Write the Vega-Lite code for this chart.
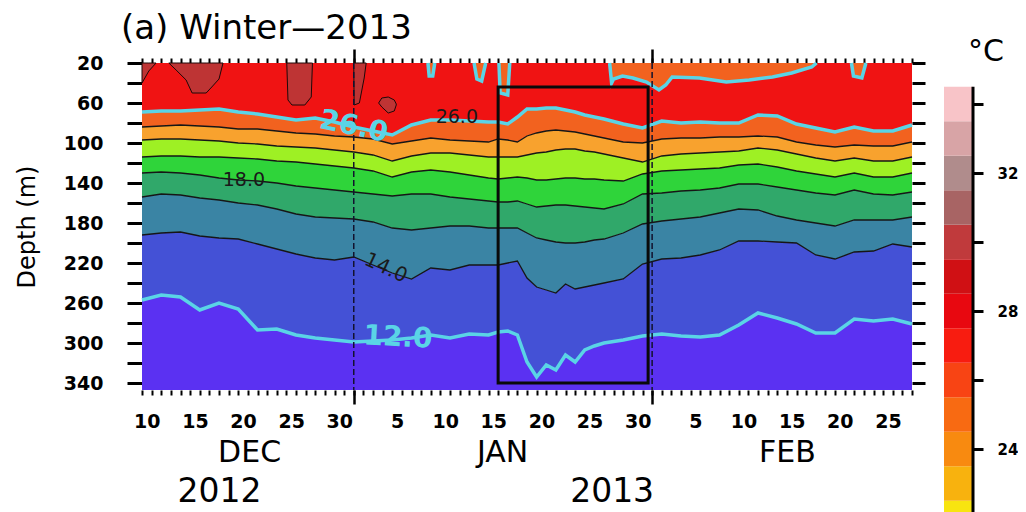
{
  "$schema": "https://vega.github.io/schema/vega-lite/v6.json",
  "background": "white",
  "padding": {"left": 15, "top": 11, "right": 0, "bottom": 0},
  "config": {"font": "DejaVu Sans", "view": {"stroke": null}, "axis": {"grid": false, "labelColor": "black", "tickColor": "black", "titleColor": "black"}},
  "datasets": {
    "iso": [
      {"t":"2012-12-10T00:00","a26":69,"a24":84,"a22":97,"a20":114,"a18":130,"a16":154,"a14":192,"a12":257},
      {"t":"2012-12-12T00:00","a26":68,"a24":83,"a22":96,"a20":113,"a18":129,"a16":151,"a14":190,"a12":252},
      {"t":"2012-12-14T00:00","a26":68,"a24":82,"a22":96,"a20":113,"a18":130,"a16":152,"a14":189,"a12":254},
      {"t":"2012-12-16T00:00","a26":67,"a24":83,"a22":97,"a20":114,"a18":132,"a16":155,"a14":193,"a12":267},
      {"t":"2012-12-18T00:00","a26":66,"a24":84,"a22":98,"a20":114,"a18":135,"a16":157,"a14":195,"a12":260},
      {"t":"2012-12-20T00:00","a26":69,"a24":86,"a22":100,"a20":115,"a18":137,"a16":160,"a14":196,"a12":266},
      {"t":"2012-12-22T00:00","a26":71,"a24":86,"a22":101,"a20":116,"a18":138,"a16":162,"a14":201,"a12":287},
      {"t":"2012-12-24T00:00","a26":74,"a24":88,"a22":103,"a20":118,"a18":140,"a16":166,"a14":206,"a12":286},
      {"t":"2012-12-26T00:00","a26":77,"a24":90,"a22":104,"a20":119,"a18":143,"a16":171,"a14":211,"a12":292},
      {"t":"2012-12-28T00:00","a26":75,"a24":91,"a22":105,"a20":121,"a18":145,"a16":174,"a14":215,"a12":295},
      {"t":"2012-12-30T00:00","a26":79,"a24":93,"a22":107,"a20":123,"a18":147,"a16":175,"a14":217,"a12":297},
      {"t":"2013-01-01T00:00","a26":84,"a24":94,"a22":109,"a20":125,"a18":149,"a16":176,"a14":214,"a12":299},
      {"t":"2013-01-03T00:00","a26":88,"a24":96,"a22":112,"a20":128,"a18":151,"a16":179,"a14":222,"a12":298},
      {"t":"2013-01-05T00:00","a26":92,"a24":101,"a22":118,"a20":134,"a18":153,"a16":185,"a14":230,"a12":297},
      {"t":"2013-01-07T00:00","a26":82,"a24":98,"a22":113,"a20":129,"a18":151,"a16":187,"a14":236,"a12":295},
      {"t":"2013-01-09T00:00","a26":77,"a24":95,"a22":110,"a20":127,"a18":151,"a16":185,"a14":225,"a12":292},
      {"t":"2013-01-11T00:00","a26":77,"a24":97,"a22":110,"a20":129,"a18":154,"a16":183,"a14":227,"a12":295},
      {"t":"2013-01-13T00:00","a26":78,"a24":98,"a22":112,"a20":132,"a18":156,"a16":183,"a14":222,"a12":291},
      {"t":"2013-01-15T00:00","a26":79,"a24":99,"a22":114,"a20":135,"a18":158,"a16":185,"a14":222,"a12":292},
      {"t":"2013-01-16T00:00","a26":79,"a24":96,"a22":114,"a20":136,"a18":159,"a16":185,"a14":222,"a12":289},
      {"t":"2013-01-17T00:00","a26":81,"a24":97,"a22":114,"a20":135,"a18":159,"a16":185,"a14":220,"a12":288},
      {"t":"2013-01-18T00:00","a26":74,"a24":99,"a22":114,"a20":134,"a18":158,"a16":185,"a14":218,"a12":292},
      {"t":"2013-01-19T00:00","a26":66,"a24":93,"a22":112,"a20":135,"a18":161,"a16":190,"a14":235,"a12":319},
      {"t":"2013-01-20T00:00","a26":66,"a24":90,"a22":110,"a20":137,"a18":164,"a16":195,"a14":244,"a12":334},
      {"t":"2013-01-21T00:00","a26":65,"a24":88,"a22":109,"a20":137,"a18":163,"a16":197,"a14":247,"a12":322},
      {"t":"2013-01-22T00:00","a26":65,"a24":87,"a22":107,"a20":136,"a18":162,"a16":199,"a14":250,"a12":327},
      {"t":"2013-01-23T00:00","a26":67,"a24":88,"a22":106,"a20":135,"a18":162,"a16":200,"a14":241,"a12":312},
      {"t":"2013-01-24T00:00","a26":69,"a24":89,"a22":106,"a20":135,"a18":163,"a16":200,"a14":246,"a12":319},
      {"t":"2013-01-25T00:00","a26":72,"a24":91,"a22":108,"a20":136,"a18":164,"a16":199,"a14":244,"a12":307},
      {"t":"2013-01-26T00:00","a26":74,"a24":93,"a22":109,"a20":136,"a18":165,"a16":197,"a14":242,"a12":303},
      {"t":"2013-01-27T00:00","a26":76,"a24":95,"a22":111,"a20":137,"a18":166,"a16":196,"a14":240,"a12":300},
      {"t":"2013-01-29T00:00","a26":81,"a24":99,"a22":115,"a20":138,"a18":161,"a16":190,"a14":236,"a12":297},
      {"t":"2013-01-31T00:00","a26":85,"a24":100,"a22":119,"a20":131,"a18":151,"a16":181,"a14":221,"a12":293},
      {"t":"2013-02-02T00:00","a26":78,"a24":96,"a22":113,"a20":128,"a18":150,"a16":178,"a14":216,"a12":291},
      {"t":"2013-02-04T00:00","a26":80,"a24":95,"a22":111,"a20":127,"a18":148,"a16":176,"a14":215,"a12":293},
      {"t":"2013-02-06T00:00","a26":79,"a24":95,"a22":110,"a20":126,"a18":147,"a16":174,"a14":212,"a12":294},
      {"t":"2013-02-08T00:00","a26":80,"a24":94,"a22":109,"a20":125,"a18":145,"a16":170,"a14":207,"a12":292},
      {"t":"2013-02-10T00:00","a26":80,"a24":94,"a22":108,"a20":122,"a18":141,"a16":166,"a14":198,"a12":282},
      {"t":"2013-02-12T00:00","a26":72,"a24":93,"a22":105,"a20":121,"a18":141,"a16":167,"a14":198,"a12":270},
      {"t":"2013-02-14T00:00","a26":73,"a24":94,"a22":107,"a20":124,"a18":144,"a16":173,"a14":199,"a12":275},
      {"t":"2013-02-16T00:00","a26":81,"a24":99,"a22":111,"a20":128,"a18":147,"a16":177,"a14":200,"a12":281},
      {"t":"2013-02-18T00:00","a26":85,"a24":102,"a22":115,"a20":131,"a18":150,"a16":180,"a14":212,"a12":290},
      {"t":"2013-02-20T00:00","a26":89,"a24":104,"a22":118,"a20":134,"a18":152,"a16":183,"a14":216,"a12":290},
      {"t":"2013-02-22T00:00","a26":84,"a24":102,"a22":115,"a20":130,"a18":147,"a16":177,"a14":209,"a12":276},
      {"t":"2013-02-24T00:00","a26":88,"a24":103,"a22":118,"a20":134,"a18":151,"a16":177,"a14":208,"a12":278},
      {"t":"2013-02-26T00:00","a26":88,"a24":103,"a22":118,"a20":134,"a18":152,"a16":177,"a14":201,"a12":276},
      {"t":"2013-02-28T00:00","a26":82,"a24":99,"a22":114,"a20":130,"a18":149,"a16":174,"a14":204,"a12":281}
    ],
    "hot": [
      {"p":"h1","t":"2012-12-10T00:00","top":20,"bot":40},
      {"p":"h1","t":"2012-12-10T17:00","top":20,"bot":28},
      {"p":"h1","t":"2012-12-11T11:00","top":20,"bot":20},
      {"p":"h2","t":"2012-12-12T19:00","top":20,"bot":20},
      {"p":"h2","t":"2012-12-13T13:00","top":20,"bot":27},
      {"p":"h2","t":"2012-12-14T14:00","top":20,"bot":37},
      {"p":"h2","t":"2012-12-15T05:00","top":20,"bot":50},
      {"p":"h2","t":"2012-12-16T16:00","top":20,"bot":50},
      {"p":"h2","t":"2012-12-17T06:00","top":20,"bot":44},
      {"p":"h2","t":"2012-12-18T00:00","top":20,"bot":36},
      {"p":"h2","t":"2012-12-18T10:00","top":20,"bot":20},
      {"p":"h3","t":"2012-12-25T01:00","top":20,"bot":20},
      {"p":"h3","t":"2012-12-25T04:00","top":20,"bot":57},
      {"p":"h3","t":"2012-12-25T14:00","top":20,"bot":62},
      {"p":"h3","t":"2012-12-26T22:00","top":20,"bot":62},
      {"p":"h3","t":"2012-12-27T14:00","top":20,"bot":54},
      {"p":"h3","t":"2012-12-27T17:00","top":20,"bot":20},
      {"p":"h4","t":"2013-01-01T00:00","top":20,"bot":20},
      {"p":"h4","t":"2013-01-01T01:00","top":20,"bot":62},
      {"p":"h4","t":"2013-01-01T14:00","top":20,"bot":60},
      {"p":"h4","t":"2013-01-02T02:00","top":20,"bot":35},
      {"p":"h4","t":"2013-01-02T07:00","top":20,"bot":20},
      {"p":"h5","t":"2013-01-03T14:00","top":60,"bot":60},
      {"p":"h5","t":"2013-01-03T22:00","top":55,"bot":64},
      {"p":"h5","t":"2013-01-04T14:00","top":54,"bot":70},
      {"p":"h5","t":"2013-01-05T05:00","top":57,"bot":68},
      {"p":"h5","t":"2013-01-05T10:00","top":61,"bot":62}
    ],
    "cool": [
      {"p":"c1","t":"2013-01-08T17:00","bot":20},
      {"p":"c1","t":"2013-01-08T20:00","bot":33},
      {"p":"c1","t":"2013-01-09T05:00","bot":33},
      {"p":"c1","t":"2013-01-09T10:00","bot":20},
      {"p":"c2","t":"2013-01-13T12:00","bot":20},
      {"p":"c2","t":"2013-01-13T19:00","bot":36},
      {"p":"c2","t":"2013-01-14T07:00","bot":38},
      {"p":"c2","t":"2013-01-14T17:00","bot":20},
      {"p":"c3","t":"2013-01-16T02:00","bot":20},
      {"p":"c3","t":"2013-01-16T05:00","bot":50},
      {"p":"c3","t":"2013-01-17T00:00","bot":52},
      {"p":"c3","t":"2013-01-17T05:00","bot":20},
      {"p":"c4","t":"2013-01-27T14:00","bot":20},
      {"p":"c4","t":"2013-01-27T19:00","bot":40},
      {"p":"c4","t":"2013-01-28T00:00","bot":36},
      {"p":"c4","t":"2013-01-28T22:00","bot":33},
      {"p":"c4","t":"2013-01-30T00:00","bot":35},
      {"p":"c4","t":"2013-01-31T10:00","bot":39},
      {"p":"c4","t":"2013-02-01T17:00","bot":47},
      {"p":"c4","t":"2013-02-02T10:00","bot":42},
      {"p":"c4","t":"2013-02-03T02:00","bot":34},
      {"p":"c4","t":"2013-02-05T22:00","bot":35},
      {"p":"c4","t":"2013-02-08T17:00","bot":39},
      {"p":"c4","t":"2013-02-11T02:00","bot":37},
      {"p":"c4","t":"2013-02-13T12:00","bot":34},
      {"p":"c4","t":"2013-02-15T12:00","bot":30},
      {"p":"c4","t":"2013-02-17T14:00","bot":24},
      {"p":"c4","t":"2013-02-18T02:00","bot":20},
      {"p":"c5","t":"2013-02-21T17:00","bot":20},
      {"p":"c5","t":"2013-02-21T22:00","bot":33},
      {"p":"c5","t":"2013-02-22T19:00","bot":35},
      {"p":"c5","t":"2013-02-23T05:00","bot":20}
    ],
    "labels": [
      {"k":"c26","t":"2013-01-01T00:00","depth":84,"txt":"26.0"},
      {"k":"b26","t":"2013-01-11T17:00","depth":74,"txt":"26.0"},
      {"k":"b18","t":"2012-12-20T14:00","depth":137,"txt":"18.0"},
      {"k":"b14","t":"2013-01-04T08:00","depth":225,"txt":"14.0"},
      {"k":"b12","t":"2013-01-06T05:00","depth":297,"txt":"12.0"},
      {"k":"c12","t":"2013-01-05T14:00","depth":295,"txt":"12.0"}
    ],
    "cbar": [
      {"t":22,"lo":21.5,"hi":22.5},{"t":23,"lo":22.5,"hi":23.5},{"t":24,"lo":23.5,"hi":24.5},
      {"t":25,"lo":24.5,"hi":25.5},{"t":26,"lo":25.5,"hi":26.5},{"t":27,"lo":26.5,"hi":27.5},
      {"t":28,"lo":27.5,"hi":28.5},{"t":29,"lo":28.5,"hi":29.5},{"t":30,"lo":29.5,"hi":30.5},
      {"t":31,"lo":30.5,"hi":31.5},{"t":32,"lo":31.5,"hi":32.5},{"t":33,"lo":32.5,"hi":33.5},
      {"t":34,"lo":33.5,"hi":34.5}
    ]
  },
  "bounds": "flush",
  "spacing": 32,
  "resolve": {"scale": {"x": "independent", "y": "independent", "color": "independent"}},
  "hconcat": [
    {
      "width": 770,
      "height": 327,
      "title": {"text": "(a) Winter—2013", "anchor": "start", "frame": "group", "dx": -21, "offset": 2, "font": "DejaVu Sans", "fontSize": 34, "fontWeight": "normal", "color": "black"},
      "encoding": {
        "x": {"field": "t", "type": "temporal", "scale": {"domain": [{"year": 2012, "month": 12, "date": 10}, {"year": 2013, "month": 2, "date": 28}], "nice": false}, "axis": null}
      },
      "resolve": {"axis": {"x": "independent", "y": "independent"}},
      "layer": [
        {
          "data": {"name": "iso"},
          "mark": {"type": "area", "fill": "#f01313"},
          "encoding": {
            "x": {"field": "t", "type": "temporal", "scale": {"domain": [{"year": 2012, "month": 12, "date": 10}, {"year": 2013, "month": 2, "date": 28}], "nice": false},
              "axis": {"orient": "bottom", "tickCount": {"interval": "day", "step": 1}, "tickSize": 5, "tickWidth": 2, "domain": false, "title": null,
                "labelExpr": "indexof([5,10,15,20,25,30], date(datum.value)) >= 0 ? '' + date(datum.value) : ''",
                "labelOffset": 4.8, "labelPadding": 17, "labelFont": "DejaVu Sans", "labelFontWeight": "bold", "labelFontSize": 19,
                "labelOverlap": false, "labelFlush": false, "labelBound": false}},
            "y": {"field": "a26", "type": "quantitative", "scale": {"domain": [20, 347], "reverse": true, "nice": false, "zero": false},
              "axis": {"orient": "left", "values": [20,40,60,80,100,120,140,160,180,200,220,240,260,280,300,320,340],
                "labelExpr": "datum.value % 40 == 20 ? datum.label : ''", "tickSize": 15, "tickWidth": 3, "domain": false,
                "labelPadding": 24, "labelFont": "DejaVu Sans", "labelFontWeight": "bold", "labelFontSize": 19,
                "labelOverlap": false, "labelBound": false, "labelFlush": false,
                "title": "Depth (m)", "titleFont": "DejaVu Sans", "titleFontSize": 24, "titleFontWeight": "normal", "titlePadding": 24}},
            "y2": {"datum": 20}
          }
        },
        {
          "data": {"name": "iso"},
          "mark": {"type": "area", "fill": "#f2621f"},
          "encoding": {
            "x": {"field": "t", "type": "temporal", "scale": {"domain": [{"year": 2012, "month": 12, "date": 10}, {"year": 2013, "month": 2, "date": 28}], "nice": false},
              "axis": {"orient": "bottom", "values": [{"year": 2013, "month": 1, "date": 1}, {"year": 2013, "month": 2, "date": 1}], "tickSize": 14, "tickWidth": 2.5, "labels": false, "domain": false, "title": null}},
            "y": {"field": "a24", "type": "quantitative", "scale": {"domain": [20, 347], "reverse": true, "nice": false, "zero": false},
              "axis": {"orient": "right", "values": [20,40,60,80,100,120,140,160,180,200,220,240,260,280,300,320,340], "tickSize": 13, "tickWidth": 3, "labels": false, "domain": false, "title": null}},
            "y2": {"field": "a26"}
          }
        },
        {
          "data": {"name": "iso"},
          "mark": {"type": "area", "fill": "#f8a22e"},
          "encoding": {
            "x": {"field": "t", "type": "temporal", "scale": {"domain": [{"year": 2012, "month": 12, "date": 10}, {"year": 2013, "month": 2, "date": 28}], "nice": false},
              "axis": {"orient": "top", "tickCount": {"interval": "day", "step": 1}, "tickSize": 5, "tickWidth": 2, "labels": false, "domain": false, "title": null}},
            "y": {"field": "a22", "type": "quantitative", "scale": {"domain": [20, 347], "reverse": true, "nice": false, "zero": false}, "axis": null},
            "y2": {"field": "a24"}
          }
        },
        {
          "data": {"name": "iso"},
          "mark": {"type": "area", "fill": "#9ef024"},
          "encoding": {
            "x": {"field": "t", "type": "temporal", "scale": {"domain": [{"year": 2012, "month": 12, "date": 10}, {"year": 2013, "month": 2, "date": 28}], "nice": false},
              "axis": {"orient": "top", "values": [{"year": 2013, "month": 1, "date": 1}, {"year": 2013, "month": 2, "date": 1}], "tickSize": 14, "tickWidth": 2.5, "labels": false, "domain": false, "title": null}},
            "y": {"field": "a20", "type": "quantitative", "scale": {"domain": [20, 347], "reverse": true, "nice": false, "zero": false}, "axis": null},
            "y2": {"field": "a22"}
          }
        },
        {
          "data": {"name": "iso"},
          "mark": {"type": "area", "fill": "#2fd43a"},
          "encoding": {
            "x": {"field": "t", "type": "temporal", "scale": {"domain": [{"year": 2012, "month": 12, "date": 10}, {"year": 2013, "month": 2, "date": 28}], "nice": false},
              "axis": {"orient": "bottom", "values": [{"year": 2012, "month": 12, "date": 21, "hours": 3}, {"year": 2013, "month": 1, "date": 16, "hours": 10}, {"year": 2013, "month": 2, "date": 15}],
                "ticks": false, "tickSize": 0, "domain": false, "title": null, "labelExpr": "upper(timeFormat(datum.value, '%b'))",
                "labelPadding": 47, "labelFont": "DejaVu Sans", "labelFontSize": 30, "labelFontWeight": "normal",
                "labelOverlap": false, "labelFlush": false, "labelBound": false}},
            "y": {"field": "a18", "type": "quantitative", "scale": {"domain": [20, 347], "reverse": true, "nice": false, "zero": false}, "axis": null},
            "y2": {"field": "a20"}
          }
        },
        {
          "data": {"name": "iso"},
          "mark": {"type": "area", "fill": "#30a86a"},
          "encoding": {
            "x": {"field": "t", "type": "temporal", "scale": {"domain": [{"year": 2012, "month": 12, "date": 10}, {"year": 2013, "month": 2, "date": 28}], "nice": false},
              "axis": {"orient": "bottom", "values": [{"year": 2012, "month": 12, "date": 18}, {"year": 2013, "month": 1, "date": 27, "hours": 19}],
                "ticks": false, "tickSize": 0, "domain": false, "title": null, "labelExpr": "timeFormat(datum.value, '%Y')",
                "labelPadding": 85, "labelFont": "DejaVu Sans", "labelFontSize": 33, "labelFontWeight": "normal",
                "labelOverlap": false, "labelFlush": false, "labelBound": false}},
            "y": {"field": "a16", "type": "quantitative", "scale": {"domain": [20, 347], "reverse": true, "nice": false, "zero": false}, "axis": null},
            "y2": {"field": "a18"}
          }
        },
        {
          "data": {"name": "iso"},
          "mark": {"type": "area", "fill": "#3a84a4"},
          "encoding": {
            "y": {"field": "a14", "type": "quantitative", "scale": {"domain": [20, 347], "reverse": true, "nice": false, "zero": false}, "axis": null},
            "y2": {"field": "a16"}
          }
        },
        {
          "data": {"name": "iso"},
          "mark": {"type": "area", "fill": "#4451d6"},
          "encoding": {
            "y": {"field": "a12", "type": "quantitative", "scale": {"domain": [20, 347], "reverse": true, "nice": false, "zero": false}, "axis": null},
            "y2": {"field": "a14"}
          }
        },
        {
          "data": {"name": "iso"},
          "mark": {"type": "area", "fill": "#5b31f2"},
          "encoding": {
            "y": {"field": "a12", "type": "quantitative", "scale": {"domain": [20, 347], "reverse": true, "nice": false, "zero": false}, "axis": null},
            "y2": {"datum": 347}
          }
        },
        {
          "data": {"name": "hot"},
          "mark": {"type": "area", "fill": "#be3434", "stroke": "#1e0808", "strokeWidth": 1},
          "encoding": {
            "y": {"field": "top", "type": "quantitative", "scale": {"domain": [20, 347], "reverse": true, "nice": false, "zero": false}, "axis": null},
            "y2": {"field": "bot"},
            "detail": {"field": "p"}
          }
        },
        {
          "data": {"name": "cool"},
          "mark": {"type": "area", "fill": "#f2621f"},
          "encoding": {
            "y": {"field": "bot", "type": "quantitative", "scale": {"domain": [20, 347], "reverse": true, "nice": false, "zero": false}, "axis": null},
            "y2": {"datum": 20},
            "detail": {"field": "p"}
          }
        },
        {
          "data": {"name": "iso"},
          "transform": [{"fold": ["a24", "a22", "a20", "a18", "a16", "a14"], "as": ["k", "v"]}],
          "mark": {"type": "line", "stroke": "#161616", "strokeWidth": 1.3},
          "encoding": {
            "y": {"field": "v", "type": "quantitative", "scale": {"domain": [20, 347], "reverse": true, "nice": false, "zero": false}, "axis": null},
            "detail": {"field": "k"}
          }
        },
        {
          "data": {"name": "iso"},
          "transform": [{"fold": ["a26", "a12"], "as": ["k", "v"]}],
          "mark": {"type": "line", "stroke": "#5ad4e6", "strokeWidth": 3.5},
          "encoding": {
            "y": {"field": "v", "type": "quantitative", "scale": {"domain": [20, 347], "reverse": true, "nice": false, "zero": false}, "axis": null},
            "detail": {"field": "k"}
          }
        },
        {
          "data": {"name": "cool"},
          "mark": {"type": "line", "stroke": "#5ad4e6", "strokeWidth": 3.5},
          "encoding": {
            "y": {"field": "bot", "type": "quantitative", "scale": {"domain": [20, 347], "reverse": true, "nice": false, "zero": false}, "axis": null},
            "detail": {"field": "p"}
          }
        },
        {
          "data": {"values": [{"t": "2013-01-01T00:00"}, {"t": "2013-02-01T00:00"}]},
          "mark": {"type": "rule", "stroke": "#12122e", "strokeWidth": 1.5, "strokeDash": [6, 3]},
          "encoding": {}
        },
        {
          "data": {"values": [{"t0": "2013-01-16T00:00", "t1": "2013-01-31T14:00", "top": 44, "bot": 340}]},
          "mark": {"type": "rect", "filled": false, "stroke": "#0a0a0a", "strokeWidth": 3},
          "encoding": {
            "x": {"field": "t0", "type": "temporal", "scale": {"domain": [{"year": 2012, "month": 12, "date": 10}, {"year": 2013, "month": 2, "date": 28}], "nice": false}, "axis": null},
            "x2": {"field": "t1"},
            "y": {"field": "top", "type": "quantitative", "scale": {"domain": [20, 347], "reverse": true, "nice": false, "zero": false}, "axis": null},
            "y2": {"field": "bot"}
          }
        },
        {
          "data": {"name": "labels"},
          "transform": [{"filter": "datum.k == 'c26'"}],
          "mark": {"type": "text", "font": "DejaVu Sans", "fontWeight": "bold", "fontSize": 28, "fill": "#5ad4e6", "angle": 12, "align": "center", "baseline": "middle"},
          "encoding": {
            "y": {"field": "depth", "type": "quantitative", "scale": {"domain": [20, 347], "reverse": true, "nice": false, "zero": false}, "axis": null},
            "text": {"field": "txt"}
          }
        },
        {
          "data": {"name": "labels"},
          "transform": [{"filter": "datum.k == 'c12'"}],
          "mark": {"type": "text", "font": "DejaVu Sans", "fontWeight": "bold", "fontSize": 28, "fill": "#5ad4e6", "angle": 3, "align": "center", "baseline": "middle"},
          "encoding": {
            "y": {"field": "depth", "type": "quantitative", "scale": {"domain": [20, 347], "reverse": true, "nice": false, "zero": false}, "axis": null},
            "text": {"field": "txt"}
          }
        },
        {
          "data": {"name": "labels"},
          "transform": [{"filter": "datum.k == 'b26' || datum.k == 'b18'"}],
          "mark": {"type": "text", "font": "DejaVu Sans", "fontSize": 19, "fill": "#1a1a1a", "align": "center", "baseline": "middle"},
          "encoding": {
            "y": {"field": "depth", "type": "quantitative", "scale": {"domain": [20, 347], "reverse": true, "nice": false, "zero": false}, "axis": null},
            "text": {"field": "txt"}
          }
        },
        {
          "data": {"name": "labels"},
          "transform": [{"filter": "datum.k == 'b14'"}],
          "mark": {"type": "text", "font": "DejaVu Sans", "fontSize": 20, "fill": "#1a1a1a", "angle": 25, "align": "center", "baseline": "middle"},
          "encoding": {
            "y": {"field": "depth", "type": "quantitative", "scale": {"domain": [20, 347], "reverse": true, "nice": false, "zero": false}, "axis": null},
            "text": {"field": "txt"}
          }
        },
        {
          "data": {"values": [{}]},
          "mark": {"type": "rect", "filled": false, "stroke": "black", "strokeWidth": 2.5},
          "encoding": {
            "x": {"datum": {"year": 2012, "month": 12, "date": 10}, "type": "temporal", "scale": {"domain": [{"year": 2012, "month": 12, "date": 10}, {"year": 2013, "month": 2, "date": 28}], "nice": false}, "axis": null},
            "x2": {"datum": {"year": 2013, "month": 2, "date": 28}},
            "y": {"datum": 20, "type": "quantitative", "scale": {"domain": [20, 347], "reverse": true, "nice": false, "zero": false}, "axis": null},
            "y2": {"datum": 347}
          }
        }
      ]
    },
    {
      "width": 29,
      "height": 462,
      "title": {"text": "°C", "anchor": "start", "frame": "group", "dx": 24, "offset": -4, "font": "DejaVu Sans", "fontSize": 30, "fontWeight": "normal", "color": "black"},
      "layer": [
        {
          "data": {"name": "cbar"},
          "mark": {"type": "rect"},
          "encoding": {
            "x": {"datum": 0, "type": "quantitative", "scale": {"domain": [0, 1], "nice": false, "zero": false}, "axis": null},
            "x2": {"datum": 1},
            "y": {"field": "lo", "type": "quantitative", "scale": {"domain": [21.8, 35.19], "nice": false, "zero": false},
              "axis": {"orient": "right", "values": [24, 26, 28, 30, 32, 34], "labelExpr": "datum.value % 4 == 0 ? datum.label : ''",
                "tickSize": 10, "tickWidth": 3, "domain": false, "labelPadding": 14, "labelFont": "DejaVu Sans", "labelFontWeight": "bold", "labelFontSize": 15,
                "title": null, "labelOverlap": false, "labelBound": false, "labelFlush": false}},
            "y2": {"field": "hi"},
            "color": {"field": "t", "type": "ordinal", "legend": null,
              "scale": {"domain": [22, 23, 24, 25, 26, 27, 28, 29, 30, 31, 32, 33, 34],
                "range": ["#f8e410", "#f8b20e", "#f88a10", "#f86a12", "#f84414", "#f81c10", "#e80810", "#d01014", "#c03a3c", "#a86464", "#b08c8c", "#d8a4a6", "#f8c4c8"]}}
          }
        },
        {
          "data": {"values": [{}]},
          "mark": {"type": "rule", "stroke": "black", "strokeWidth": 3},
          "encoding": {
            "x": {"datum": 1, "type": "quantitative", "scale": {"domain": [0, 1], "nice": false, "zero": false}, "axis": null},
            "y": {"datum": 21.8, "type": "quantitative", "scale": {"domain": [21.8, 35.19], "nice": false, "zero": false}},
            "y2": {"datum": 34.5}
          }
        }
      ]
    }
  ]
}
